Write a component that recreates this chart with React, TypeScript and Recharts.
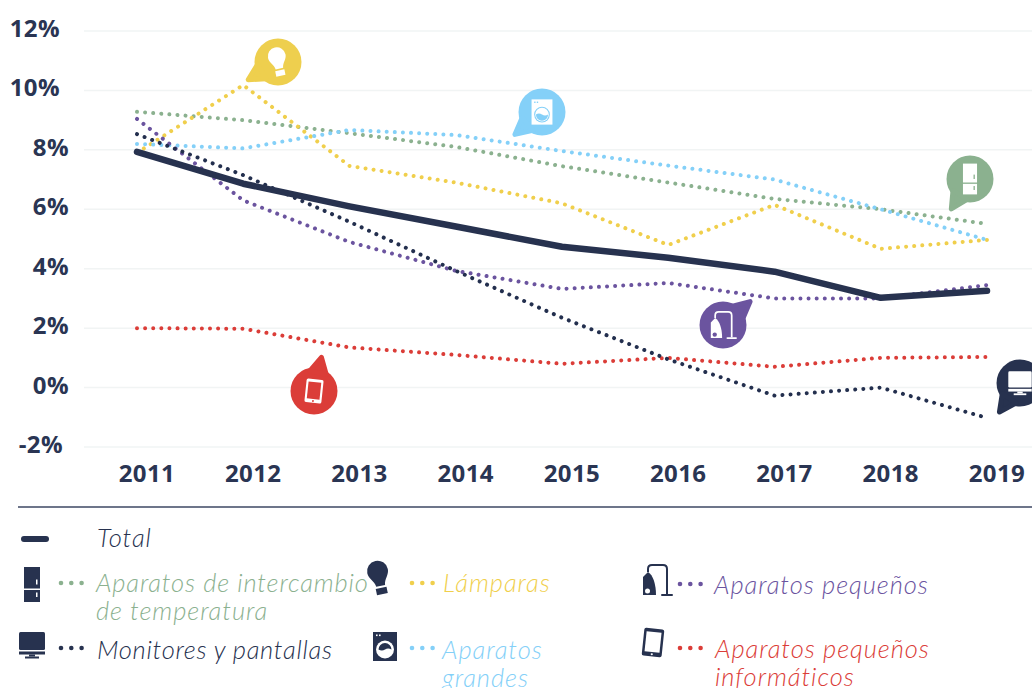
import { LineChart, Line, XAxis, YAxis, CartesianGrid } from "recharts";

const years = [2011, 2012, 2013, 2014, 2015, 2016, 2017, 2018, 2019];
const yTicks = [-2, 0, 2, 4, 6, 8, 10, 12];

const total = [7.93, 6.86, 6.1, 5.42, 4.74, 4.37, 3.9, 3.02, 3.26];
const intercambio = [9.28, 9.0, 8.56, 8.1, 7.45, 6.9, 6.35, 6.0, 5.51];
const lamparas = [7.9, 10.18, 7.46, 6.9, 6.2, 4.8, 6.15, 4.67, 4.97];
const grandes = [8.2, 8.05, 8.67, 8.5, 7.96, 7.47, 7.0, 6.0, 4.97];
const monitores = [8.53, 7.15, 5.58, 3.93, 2.35, 0.95, -0.27, 0, -1.02];
const pequenos = [9.04, 6.3, 4.9, 3.93, 3.32, 3.52, 3.0, 3.0, 3.45];
const informaticos = [2.0, 1.98, 1.35, 1.1, 0.8, 1.0, 0.7, 1.0, 1.03];

const NAVY = "#27324f";
const TEXT = "#2a3553";
const GREEN = "#8bb18f";
const YELLOW = "#f0cf4c";
const BLUE = "#84d0f8";
const PURPLE = "#6b549f";
const RED = "#db3d38";

const chartData = years.map((year, i) => ({
  year,
  total: total[i],
  intercambio: intercambio[i],
  lamparas: lamparas[i],
  grandes: grandes[i],
  monitores: monitores[i],
  pequenos: pequenos[i],
  informaticos: informaticos[i],
}));

const dottedSeries = [
  { key: "intercambio", color: GREEN },
  { key: "lamparas", color: YELLOW },
  { key: "grandes", color: BLUE },
  { key: "pequenos", color: PURPLE },
  { key: "informaticos", color: RED },
  { key: "monitores", color: "#232f4e" },
];

type IconProps = { fg: string; bg: string; flip?: boolean };

const Fridge = ({ fg, bg }: IconProps) => (
  <g>
    <rect x={-8} y={-17.5} width={16} height={21.5} fill={fg} />
    <rect x={-8} y={5.5} width={16} height={12} fill={fg} />
    <rect x={4} y={-5} width={1.5} height={5} fill={bg} />
    <rect x={4} y={8} width={1.5} height={4.5} fill={bg} />
  </g>
);

const Bulb = ({ fg }: IconProps) => (
  <g transform="rotate(-12)">
    <path
      d="M-10.5,-7 A10.5,10.5 0 1 1 10.5,-7 C10.5,-1 5,2 4.5,8 L-4.5,8 C-5,2 -10.5,-1 -10.5,-7Z"
      fill={fg}
    />
    <rect x={-5.5} y={10} width={11} height={6.5} fill={fg} />
  </g>
);

const Monitor = ({ fg }: IconProps) => (
  <g>
    <rect x={-13} y={-13} width={26} height={18} rx={1.5} fill={fg} />
    <rect x={-13} y={6.5} width={26} height={3} fill={fg} />
    <rect x={-3} y={9.5} width={6} height={2} fill={fg} />
    <rect x={-7} y={11.5} width={14} height={2} fill={fg} />
  </g>
);

const Washer = ({ fg, bg, flip }: IconProps) => (
  <g>
    <rect x={-12} y={-14.5} width={24} height={29} fill={fg} />
    <rect x={-9} y={-12} width={1.6} height={1.6} fill={bg} />
    <rect x={-6} y={-12} width={1.6} height={1.6} fill={bg} />
    <circle cx={0} cy={3} r={9} fill={bg} />
    {flip ? (
      <path d="M-6.5,3 A6.5,6.5 0 0 1 6.5,3 Q3,1 0,3 Q-3,5 -6.5,3Z" fill={fg} />
    ) : (
      <>
        <circle cx={0} cy={3} r={7.8} fill={fg} />
        <path d="M-7,3 Q-3.5,0.5 0,3 Q3.5,5 7,3 A7,7 0 0 1 -7,3Z" fill={bg} />
      </>
    )}
  </g>
);

const Vacuum = ({ fg, bg }: IconProps) => (
  <g>
    <path d="M-14,-3 L-9,-8 C-4,-5 -1,4 -1,15 L-14,15Z" fill={fg} />
    <path
      d="M-9,-8 L-9,-11 Q-9,-15 -5,-15 L6,-15 Q10,-15 10,-11 L10,14"
      fill="none"
      stroke={fg}
      strokeWidth={2}
    />
    <path d="M5,15 L15,15" stroke={fg} strokeWidth={2} strokeLinecap="round" />
    <circle cx={-9.5} cy={11} r={2.5} fill={bg} />
  </g>
);

const Tablet = ({ fg, bg }: IconProps) => (
  <g transform="rotate(6)">
    <rect x={-10} y={-14} width={20} height={28} rx={2} fill={fg} />
    <rect x={-7.5} y={-10.5} width={15} height={20} fill={bg} />
    <circle cx={0} cy={11.8} r={1.1} fill={bg} />
  </g>
);

function Bubble({ cx, cy, tipX, tipY, color, children }: any) {
  const r = 23.5;
  const a = Math.atan2(tipY - cy, tipX - cx);
  const len = Math.hypot(tipX - cx, tipY - cy) - 2.5;
  const p = (ang: number, d: number) => `${Math.cos(ang) * d},${Math.sin(ang) * d}`;
  return (
    <g transform={`translate(${cx},${cy})`}>
      <circle r={r} fill={color} />
      <path
        d={`M${p(a - 0.42, r - 3)} L${p(a, len)} L${p(a + 0.42, r - 3)}Z`}
        fill={color}
        stroke={color}
        strokeWidth={5}
        strokeLinejoin="round"
      />
      {children}
    </g>
  );
}

const Placed = ({ x, y, scale = 1, children }: any) => (
  <g transform={`translate(${x},${y}) scale(${scale})`}>{children}</g>
);

const Dots = ({ x, y, color }: { x: number; y: number; color: string }) => (
  <g fill={color}>
    <circle cx={x} cy={y} r={2.3} />
    <circle cx={x + 10.3} cy={y} r={2.3} />
    <circle cx={x + 20.6} cy={y} r={2.3} />
  </g>
);

const Label = ({ x, y, color, spacing = 0.95, children }: any) => (
  <text
    x={x}
    y={y}
    fill={color}
    fontFamily="Lato, sans-serif"
    fontStyle="italic"
    fontWeight={300}
    fontSize={25.5}
    letterSpacing={spacing}
  >
    {children}
  </text>
);

const tickFont = {
  fontFamily: "'Open Sans', sans-serif",
  fontWeight: 700,
  fontSize: 24,
  letterSpacing: 0.4,
  fill: TEXT,
};

const XTick = ({ x, y, payload }: any) => (
  <text x={x + 10} y={y + 27} textAnchor="middle" {...tickFont}>
    {payload.value}
  </text>
);

const YTick = ({ y, payload }: any) => {
  const shift = payload.value >= 10 ? -9 : payload.value < 0 ? -6 : 0;
  return (
    <text x={69 + shift} y={y + 6} textAnchor="end" {...tickFont}>
      {payload.value}%
    </text>
  );
};

export default function App() {
  return (
    <div style={{ position: "absolute", left: 0, top: 0, width: 1032, height: 688, background: "#fff", overflow: "hidden" }}>
      <LineChart
        width={1032}
        height={688}
        data={chartData}
        margin={{ top: 31, right: 0, bottom: 181, left: 0 }}
      >
        <CartesianGrid horizontal vertical={false} stroke="#f1f4f4" strokeWidth={1.5} />
        <XAxis
          dataKey="year"
          type="number"
          domain={[2011, 2019]}
          ticks={years}
          padding={{ left: 53, right: 45 }}
          height={60}
          axisLine={false}
          tickLine={false}
          tick={<XTick />}
          interval={0}
        />
        <YAxis
          domain={[-2, 12]}
          ticks={yTicks}
          width={84}
          axisLine={false}
          tickLine={false}
          tick={<YTick />}
          interval={0}
        />
        {dottedSeries.map((s) => (
          <Line
            key={s.key}
            dataKey={s.key}
            type="linear"
            stroke={s.color}
            strokeWidth={4}
            strokeDasharray="0.01 8.1"
            strokeLinecap="round"
            dot={false}
            activeDot={false}
            isAnimationActive={false}
          />
        ))}
        <Line
          dataKey="total"
          type="linear"
          stroke={NAVY}
          strokeWidth={6.5}
          strokeLinecap="round"
          strokeLinejoin="round"
          dot={false}
          activeDot={false}
          isAnimationActive={false}
        />
      </LineChart>

      <svg width={1032} height={688} style={{ position: "absolute", left: 0, top: 0, pointerEvents: "none" }}>
        <Bubble cx={278} cy={62} tipX={246} tipY={81} color="#eecf4e">
          <Placed x={0} y={0} scale={0.85}><Bulb fg="#fff" bg="#eecf4e" /></Placed>
        </Bubble>
        <Bubble cx={542} cy={112} tipX={513} tipY={136} color={BLUE}>
          <Placed x={0} y={0} scale={0.87}><Washer fg="#fff" bg={BLUE} /></Placed>
        </Bubble>
        <Bubble cx={970} cy={179} tipX={950} tipY={211} color={GREEN}>
          <Placed x={0} y={0} scale={0.88}><Fridge fg="#fff" bg={GREEN} /></Placed>
        </Bubble>
        <Bubble cx={723} cy={325} tipX={752} tipY={300} color={PURPLE}>
          <Placed x={0} y={0} scale={0.87}><Vacuum fg="#fff" bg={PURPLE} /></Placed>
        </Bubble>
        <Bubble cx={314} cy={391} tipX={322} tipY={355} color={RED}>
          <Placed x={0} y={0} scale={0.85}><Tablet fg="#fff" bg={RED} /></Placed>
        </Bubble>
        <Bubble cx={1020} cy={383} tipX={998} tipY={414} color={NAVY}>
          <Placed x={0} y={0} scale={0.9}><Monitor fg="#fff" bg={NAVY} /></Placed>
        </Bubble>

        <line x1={18} x2={1032} y1={507} y2={507} stroke="#3c4763" strokeWidth={1.5} />

        <line x1={24} x2={46} y1={539} y2={539} stroke={NAVY} strokeWidth={6} strokeLinecap="round" />
        <Label x={97} y={547} color={NAVY}>Total</Label>

        <Placed x={32} y={584.5}><Fridge fg={NAVY} bg="#fff" /></Placed>
        <Dots x={61} y={583} color={GREEN} />
        <Label x={96} y={592} color={GREEN} spacing={0.85}>Aparatos de intercambio</Label>
        <Label x={96} y={620} color={GREEN}>de temperatura</Label>

        <Placed x={379} y={578}><Bulb fg={NAVY} bg="#fff" /></Placed>
        <Dots x={412} y={583} color={YELLOW} />
        <Label x={443} y={592} color={YELLOW}>Lámparas</Label>

        <Placed x={657} y={580}><Vacuum fg={NAVY} bg="#fff" /></Placed>
        <Dots x={680} y={584} color={PURPLE} />
        <Label x={714} y={594} color={PURPLE}>Aparatos pequeños</Label>

        <Placed x={32} y={645}><Monitor fg={NAVY} bg="#fff" /></Placed>
        <Dots x={61} y={648} color={NAVY} />
        <Label x={97} y={659} color={NAVY} spacing={0.7}>Monitores y pantallas</Label>

        <Placed x={385} y={646.5}><Washer fg={NAVY} bg="#fff" flip /></Placed>
        <Dots x={412} y={648} color={BLUE} />
        <Label x={442} y={659} color={BLUE}>Aparatos</Label>
        <Label x={442} y={687} color={BLUE}>grandes</Label>

        <Placed x={653} y={642.5}><Tablet fg={NAVY} bg="#fff" /></Placed>
        <Dots x={680} y={648} color={RED} />
        <Label x={715} y={658} color={RED}>Aparatos pequeños</Label>
        <Label x={715} y={686} color={RED}>informáticos</Label>
      </svg>
    </div>
  );
}
